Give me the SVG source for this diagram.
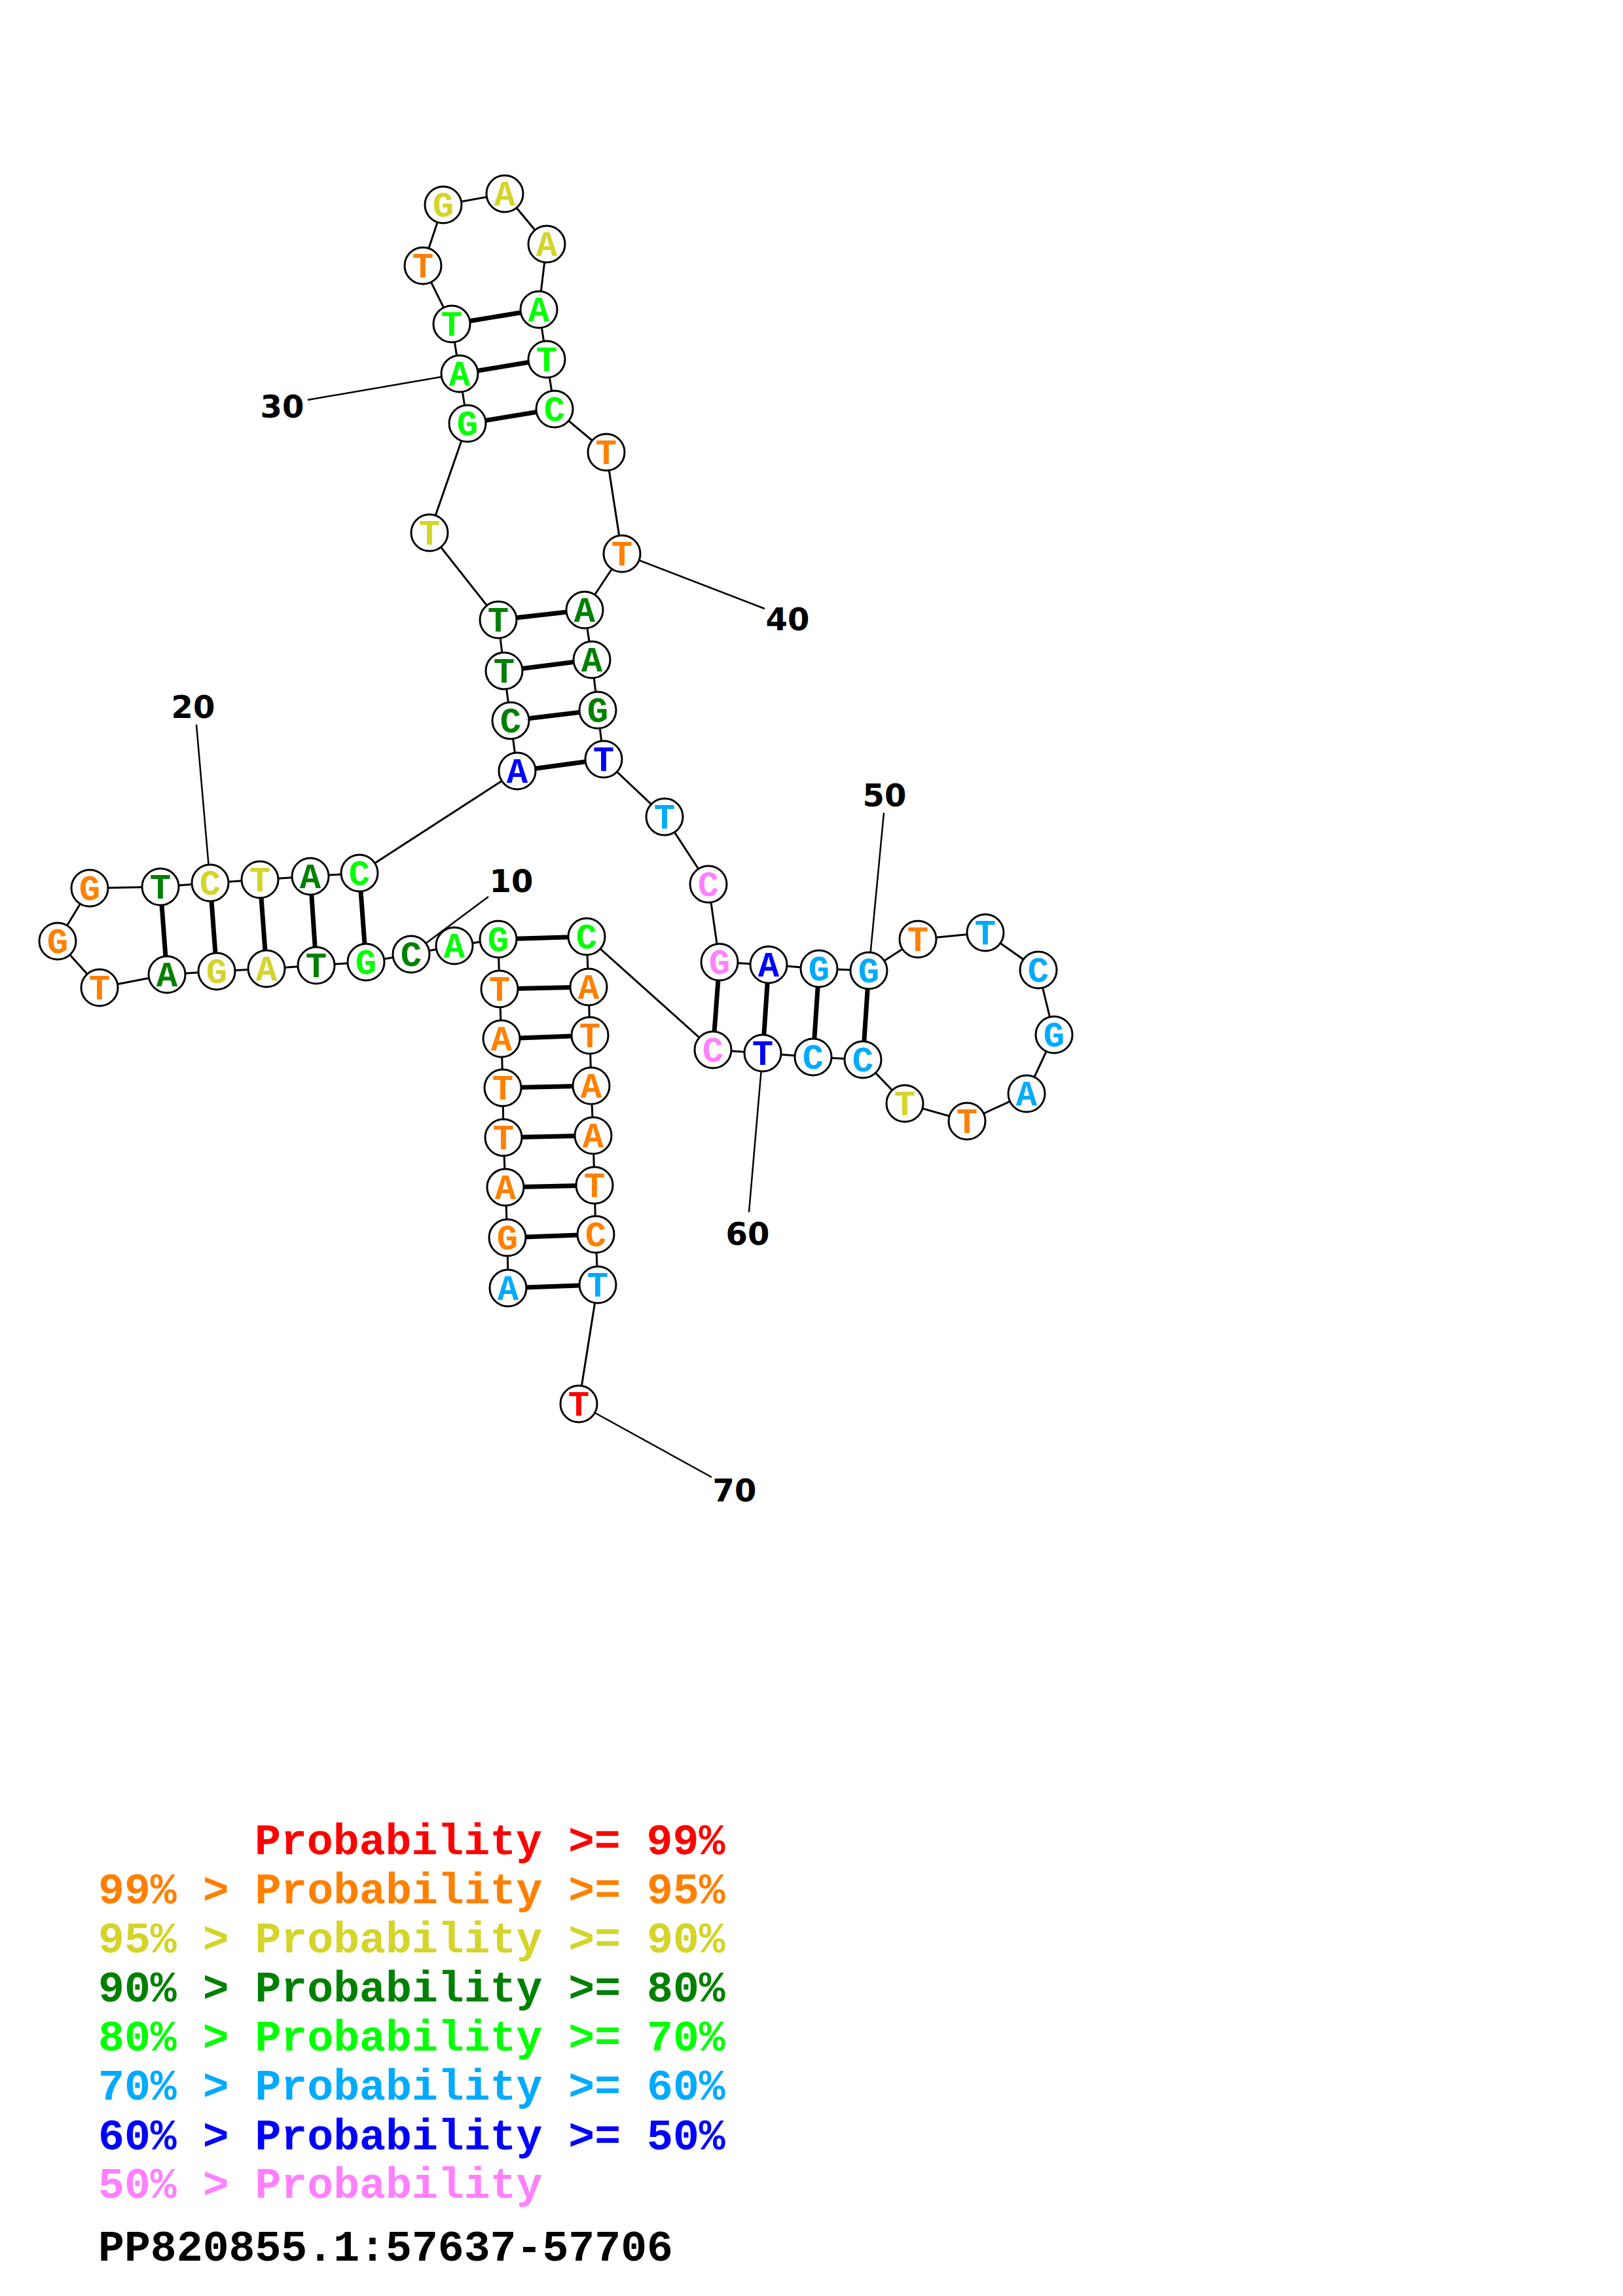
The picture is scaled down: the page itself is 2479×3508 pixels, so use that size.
<svg xmlns="http://www.w3.org/2000/svg" width="2479" height="3508" viewBox="0 0 2479 3508">
<style>
.bb{stroke:#000;stroke-width:3;fill:none}
.bp{stroke:#000;stroke-width:7;fill:none}
.ll{stroke:#000;stroke-width:2.5;fill:none}
circle{fill:#fff;stroke:#000;stroke-width:3}
.nt{font-family:"Liberation Mono","Courier New",monospace;font-weight:bold;font-size:54px;text-anchor:middle}
.num{font-family:"DejaVu Sans",sans-serif;font-weight:bold;font-size:48px;text-anchor:middle;fill:#000}
.lg{font-family:"Liberation Mono","Courier New",monospace;font-weight:bold;font-size:66.5px}
.r{fill:#ff0000}.o{fill:#ff8000}.y{fill:#d4d42a}.dg{fill:#008000}.g{fill:#00ff00}.lb{fill:#00aaff}.b{fill:#0000ff}.p{fill:#ff80ff}
</style>
<g id="connectors">
<polyline class="bb" points="776,1968 775,1891 772,1814 769,1738 768,1662 766,1587 763,1511 761,1435 694,1445 628,1458 559,1470 483,1475 407,1480 331,1484 255,1489 152,1509 88,1438 137,1357 245,1355 321,1349 397,1344 474,1339 549,1334 790,1178 780,1101 770,1025 761,947 656,814 714,647 702,571 690,495 646,406 677,313 771,296 835,373 823,473 835,549 847,625 926,691 950,846 893,932 904,1008 913,1085 922,1160 1015,1248 1082,1351 1099,1470 1174,1474 1251,1480 1327,1483 1402,1435 1505,1425 1586,1482 1610,1581 1568,1671 1477,1713 1382,1686 1318,1619 1242,1615 1165,1609 1089,1604 896,1431 899,1508 901,1582 903,1659 906,1735 908,1811 910,1886 913,1963 884,2145"/>
<line class="bp" x1="776" y1="1968" x2="913" y2="1963"/>
<line class="bp" x1="775" y1="1891" x2="910" y2="1886"/>
<line class="bp" x1="772" y1="1814" x2="908" y2="1811"/>
<line class="bp" x1="769" y1="1738" x2="906" y2="1735"/>
<line class="bp" x1="768" y1="1662" x2="903" y2="1659"/>
<line class="bp" x1="766" y1="1587" x2="901" y2="1582"/>
<line class="bp" x1="763" y1="1511" x2="899" y2="1508"/>
<line class="bp" x1="761" y1="1435" x2="896" y2="1431"/>
<line class="bp" x1="559" y1="1470" x2="549" y2="1334"/>
<line class="bp" x1="483" y1="1475" x2="474" y2="1339"/>
<line class="bp" x1="407" y1="1480" x2="397" y2="1344"/>
<line class="bp" x1="331" y1="1484" x2="321" y2="1349"/>
<line class="bp" x1="255" y1="1489" x2="245" y2="1355"/>
<line class="bp" x1="790" y1="1178" x2="922" y2="1160"/>
<line class="bp" x1="780" y1="1101" x2="913" y2="1085"/>
<line class="bp" x1="770" y1="1025" x2="904" y2="1008"/>
<line class="bp" x1="761" y1="947" x2="893" y2="932"/>
<line class="bp" x1="714" y1="647" x2="847" y2="625"/>
<line class="bp" x1="702" y1="571" x2="835" y2="549"/>
<line class="bp" x1="690" y1="495" x2="823" y2="473"/>
<line class="bp" x1="1099" y1="1470" x2="1089" y2="1604"/>
<line class="bp" x1="1174" y1="1474" x2="1165" y2="1609"/>
<line class="bp" x1="1251" y1="1480" x2="1242" y2="1615"/>
<line class="bp" x1="1327" y1="1483" x2="1318" y2="1619"/>
</g>
<g id="label-lines">
<line class="ll" x1="746" y1="1370" x2="628" y2="1458"/>
<line class="ll" x1="300" y1="1107" x2="321" y2="1349"/>
<line class="ll" x1="470" y1="611" x2="702" y2="571"/>
<line class="ll" x1="1168" y1="930" x2="950" y2="846"/>
<line class="ll" x1="1350" y1="1242" x2="1327" y2="1483"/>
<line class="ll" x1="1144" y1="1852" x2="1165" y2="1609"/>
<line class="ll" x1="1087" y1="2257" x2="884" y2="2145"/>
</g>
<g id="n1"><circle cx="776" cy="1968" r="28"/><text class="nt lb" x="776" y="1986">A</text></g>
<g id="n2"><circle cx="775" cy="1891" r="28"/><text class="nt o" x="775" y="1909">G</text></g>
<g id="n3"><circle cx="772" cy="1814" r="28"/><text class="nt o" x="772" y="1832">A</text></g>
<g id="n4"><circle cx="769" cy="1738" r="28"/><text class="nt o" x="769" y="1756">T</text></g>
<g id="n5"><circle cx="768" cy="1662" r="28"/><text class="nt o" x="768" y="1680">T</text></g>
<g id="n6"><circle cx="766" cy="1587" r="28"/><text class="nt o" x="766" y="1605">A</text></g>
<g id="n7"><circle cx="763" cy="1511" r="28"/><text class="nt o" x="763" y="1529">T</text></g>
<g id="n8"><circle cx="761" cy="1435" r="28"/><text class="nt g" x="761" y="1453">G</text></g>
<g id="n9"><circle cx="694" cy="1445" r="28"/><text class="nt g" x="694" y="1463">A</text></g>
<g id="n10"><circle cx="628" cy="1458" r="28"/><text class="nt dg" x="628" y="1476">C</text></g>
<g id="n11"><circle cx="559" cy="1470" r="28"/><text class="nt g" x="559" y="1488">G</text></g>
<g id="n12"><circle cx="483" cy="1475" r="28"/><text class="nt dg" x="483" y="1493">T</text></g>
<g id="n13"><circle cx="407" cy="1480" r="28"/><text class="nt y" x="407" y="1498">A</text></g>
<g id="n14"><circle cx="331" cy="1484" r="28"/><text class="nt y" x="331" y="1502">G</text></g>
<g id="n15"><circle cx="255" cy="1489" r="28"/><text class="nt dg" x="255" y="1507">A</text></g>
<g id="n16"><circle cx="152" cy="1509" r="28"/><text class="nt o" x="152" y="1527">T</text></g>
<g id="n17"><circle cx="88" cy="1438" r="28"/><text class="nt o" x="88" y="1456">G</text></g>
<g id="n18"><circle cx="137" cy="1357" r="28"/><text class="nt o" x="137" y="1375">G</text></g>
<g id="n19"><circle cx="245" cy="1355" r="28"/><text class="nt dg" x="245" y="1373">T</text></g>
<g id="n20"><circle cx="321" cy="1349" r="28"/><text class="nt y" x="321" y="1367">C</text></g>
<g id="n21"><circle cx="397" cy="1344" r="28"/><text class="nt y" x="397" y="1362">T</text></g>
<g id="n22"><circle cx="474" cy="1339" r="28"/><text class="nt dg" x="474" y="1357">A</text></g>
<g id="n23"><circle cx="549" cy="1334" r="28"/><text class="nt g" x="549" y="1352">C</text></g>
<g id="n24"><circle cx="790" cy="1178" r="28"/><text class="nt b" x="790" y="1196">A</text></g>
<g id="n25"><circle cx="780" cy="1101" r="28"/><text class="nt dg" x="780" y="1119">C</text></g>
<g id="n26"><circle cx="770" cy="1025" r="28"/><text class="nt dg" x="770" y="1043">T</text></g>
<g id="n27"><circle cx="761" cy="947" r="28"/><text class="nt dg" x="761" y="965">T</text></g>
<g id="n28"><circle cx="656" cy="814" r="28"/><text class="nt y" x="656" y="832">T</text></g>
<g id="n29"><circle cx="714" cy="647" r="28"/><text class="nt g" x="714" y="665">G</text></g>
<g id="n30"><circle cx="702" cy="571" r="28"/><text class="nt g" x="702" y="589">A</text></g>
<g id="n31"><circle cx="690" cy="495" r="28"/><text class="nt g" x="690" y="513">T</text></g>
<g id="n32"><circle cx="646" cy="406" r="28"/><text class="nt o" x="646" y="424">T</text></g>
<g id="n33"><circle cx="677" cy="313" r="28"/><text class="nt y" x="677" y="331">G</text></g>
<g id="n34"><circle cx="771" cy="296" r="28"/><text class="nt y" x="771" y="314">A</text></g>
<g id="n35"><circle cx="835" cy="373" r="28"/><text class="nt y" x="835" y="391">A</text></g>
<g id="n36"><circle cx="823" cy="473" r="28"/><text class="nt g" x="823" y="491">A</text></g>
<g id="n37"><circle cx="835" cy="549" r="28"/><text class="nt g" x="835" y="567">T</text></g>
<g id="n38"><circle cx="847" cy="625" r="28"/><text class="nt g" x="847" y="643">C</text></g>
<g id="n39"><circle cx="926" cy="691" r="28"/><text class="nt o" x="926" y="709">T</text></g>
<g id="n40"><circle cx="950" cy="846" r="28"/><text class="nt o" x="950" y="864">T</text></g>
<g id="n41"><circle cx="893" cy="932" r="28"/><text class="nt dg" x="893" y="950">A</text></g>
<g id="n42"><circle cx="904" cy="1008" r="28"/><text class="nt dg" x="904" y="1026">A</text></g>
<g id="n43"><circle cx="913" cy="1085" r="28"/><text class="nt dg" x="913" y="1103">G</text></g>
<g id="n44"><circle cx="922" cy="1160" r="28"/><text class="nt b" x="922" y="1178">T</text></g>
<g id="n45"><circle cx="1015" cy="1248" r="28"/><text class="nt lb" x="1015" y="1266">T</text></g>
<g id="n46"><circle cx="1082" cy="1351" r="28"/><text class="nt p" x="1082" y="1369">C</text></g>
<g id="n47"><circle cx="1099" cy="1470" r="28"/><text class="nt p" x="1099" y="1488">G</text></g>
<g id="n48"><circle cx="1174" cy="1474" r="28"/><text class="nt b" x="1174" y="1492">A</text></g>
<g id="n49"><circle cx="1251" cy="1480" r="28"/><text class="nt lb" x="1251" y="1498">G</text></g>
<g id="n50"><circle cx="1327" cy="1483" r="28"/><text class="nt lb" x="1327" y="1501">G</text></g>
<g id="n51"><circle cx="1402" cy="1435" r="28"/><text class="nt o" x="1402" y="1453">T</text></g>
<g id="n52"><circle cx="1505" cy="1425" r="28"/><text class="nt lb" x="1505" y="1443">T</text></g>
<g id="n53"><circle cx="1586" cy="1482" r="28"/><text class="nt lb" x="1586" y="1500">C</text></g>
<g id="n54"><circle cx="1610" cy="1581" r="28"/><text class="nt lb" x="1610" y="1599">G</text></g>
<g id="n55"><circle cx="1568" cy="1671" r="28"/><text class="nt lb" x="1568" y="1689">A</text></g>
<g id="n56"><circle cx="1477" cy="1713" r="28"/><text class="nt o" x="1477" y="1731">T</text></g>
<g id="n57"><circle cx="1382" cy="1686" r="28"/><text class="nt y" x="1382" y="1704">T</text></g>
<g id="n58"><circle cx="1318" cy="1619" r="28"/><text class="nt lb" x="1318" y="1637">C</text></g>
<g id="n59"><circle cx="1242" cy="1615" r="28"/><text class="nt lb" x="1242" y="1633">C</text></g>
<g id="n60"><circle cx="1165" cy="1609" r="28"/><text class="nt b" x="1165" y="1627">T</text></g>
<g id="n61"><circle cx="1089" cy="1604" r="28"/><text class="nt p" x="1089" y="1622">C</text></g>
<g id="n62"><circle cx="896" cy="1431" r="28"/><text class="nt g" x="896" y="1449">C</text></g>
<g id="n63"><circle cx="899" cy="1508" r="28"/><text class="nt o" x="899" y="1526">A</text></g>
<g id="n64"><circle cx="901" cy="1582" r="28"/><text class="nt o" x="901" y="1600">T</text></g>
<g id="n65"><circle cx="903" cy="1659" r="28"/><text class="nt o" x="903" y="1677">A</text></g>
<g id="n66"><circle cx="906" cy="1735" r="28"/><text class="nt o" x="906" y="1753">A</text></g>
<g id="n67"><circle cx="908" cy="1811" r="28"/><text class="nt o" x="908" y="1829">T</text></g>
<g id="n68"><circle cx="910" cy="1886" r="28"/><text class="nt o" x="910" y="1904">C</text></g>
<g id="n69"><circle cx="913" cy="1963" r="28"/><text class="nt lb" x="913" y="1981">T</text></g>
<g id="n70"><circle cx="884" cy="2145" r="28"/><text class="nt r" x="884" y="2163">T</text></g>
<g id="labels">
<text class="num" x="781" y="1363">10</text>
<text class="num" x="295" y="1097">20</text>
<text class="num" x="431" y="638">30</text>
<text class="num" x="1203" y="963">40</text>
<text class="num" x="1351" y="1232">50</text>
<text class="num" x="1142" y="1902">60</text>
<text class="num" x="1122" y="2294">70</text>
</g>
<g id="legend">
<text class="lg r" x="389" y="2833">Probability &gt;= 99%</text>
<text class="lg o" x="150" y="2908">99% &gt; Probability &gt;= 95%</text>
<text class="lg y" x="150" y="2983">95% &gt; Probability &gt;= 90%</text>
<text class="lg dg" x="150" y="3058">90% &gt; Probability &gt;= 80%</text>
<text class="lg g" x="150" y="3133">80% &gt; Probability &gt;= 70%</text>
<text class="lg lb" x="150" y="3208">70% &gt; Probability &gt;= 60%</text>
<text class="lg b" x="150" y="3284">60% &gt; Probability &gt;= 50%</text>
<text class="lg p" x="150" y="3358">50% &gt; Probability</text>
<text class="lg" x="150" y="3454" fill="#000">PP820855.1:57637-57706</text>
</g>
</svg>
